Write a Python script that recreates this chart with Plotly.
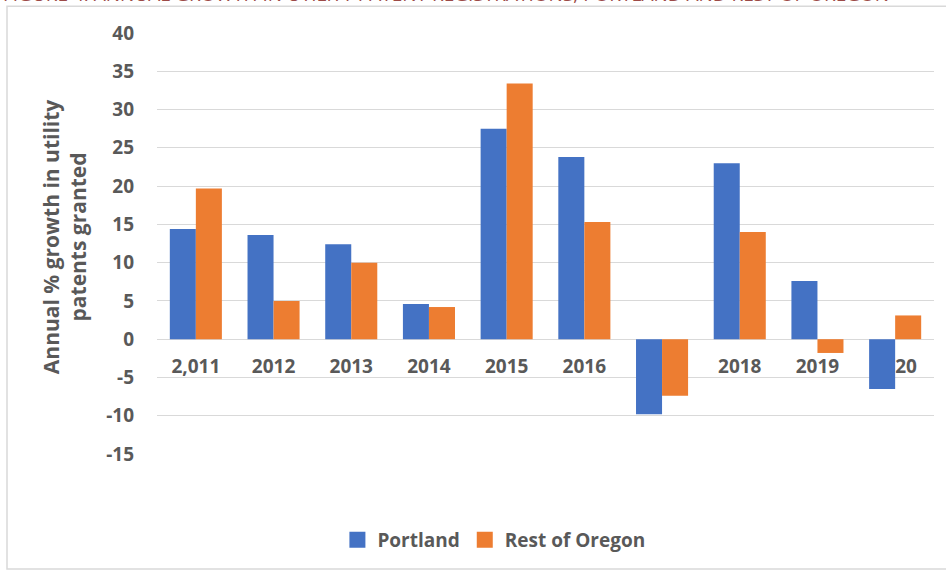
import plotly.graph_objects as go

categories = ["2,011", "2012", "2013", "2014", "2015", "2016", "2017", "2018", "2019", "2020"]
portland = [14.4, 13.6, 12.4, 4.6, 27.5, 23.8, -9.8, 23.0, 7.6, -6.5]
rest_of_oregon = [19.7, 5.0, 10.0, 4.2, 33.4, 15.3, -7.4, 14.0, -1.8, 3.1]
y_ticks = [-15, -10, -5, 0, 5, 10, 15, 20, 25, 30, 35, 40]
y_tick_labels = ["-15", "-10", "-5", "0", "5", "10", "15", "20", "25", "30", "35", "40"]

BLUE = "#4472C4"
ORANGE = "#ED7D31"
GRAY = "#595959"
GRID = "#d9d9d9"
FONT = "Open Sans"

fig = go.Figure()
fig.add_trace(go.Bar(x=categories, y=portland, name="Portland", marker_color=BLUE,
                     showlegend=False))
fig.add_trace(go.Bar(x=categories, y=rest_of_oregon, name="Rest of Oregon", marker_color=ORANGE,
                     showlegend=False))
# legend swatches
fig.add_trace(go.Scatter(x=[None], y=[None], mode="markers", name="Portland",
                         marker=dict(symbol="square", size=18, color=BLUE)))
fig.add_trace(go.Scatter(x=[None], y=[None], mode="markers", name="Rest of Oregon",
                         marker=dict(symbol="square", size=18, color=ORANGE)))

ymin, ymax = -15, 40
fig.update_layout(
    width=946, height=573,
    template="none",
    margin=dict(l=157, r=12, t=33, b=119),
    paper_bgcolor="white", plot_bgcolor="white",
    barmode="group", bargap=0.33, bargroupgap=0,
    font=dict(family=FONT, color=GRAY),
    xaxis=dict(type="category", categoryorder="array", categoryarray=categories,
               anchor="free", position=(0 - ymin) / (ymax - ymin),
               layer="below traces", showgrid=False, showline=False, zeroline=False,
               ticks="", ticklabelstandoff=14,
               tickfont=dict(family=FONT, size=19, color=GRAY, weight="bold")),
    yaxis=dict(range=[ymin, ymax], tickvals=y_ticks, ticktext=y_tick_labels,
               showgrid=True, gridcolor=GRID,
               gridwidth=1.3, zeroline=True, zerolinecolor=GRID, zerolinewidth=1.3,
               showline=False, ticks="", ticklabelstandoff=22,
               tickfont=dict(family=FONT, size=19, color=GRAY, weight="bold")),
    legend=dict(orientation="h", x=0.4336, xanchor="center", y=-0.204, yanchor="middle",
                font=dict(family=FONT, size=19, color=GRAY, weight="bold"),
                itemsizing="trace", bgcolor="rgba(0,0,0,0)"),
    showlegend=True,
)

fig.add_annotation(
    text="Annual % growth in utility<br>patents granted",
    xref="paper", yref="paper", x=(64 - 157) / 777, y=(454 - 237) / 421.3,
    xanchor="center", yanchor="middle", textangle=-90, showarrow=False,
    font=dict(family=FONT, size=21, color=GRAY, weight="bold"),
)
fig.add_annotation(
    text="FIGURE 4: ANNUAL GROWTH IN UTILITY PATENT REGISTRATIONS, PORTLAND AND REST OF OREGON",
    xref="paper", yref="paper", x=(1 - 157) / 777, y=(454 - 9) / 421.3,
    xanchor="left", yanchor="bottom", showarrow=False,
    font=dict(family=FONT, size=19, color="#9C4A47"),
)
fig.add_shape(type="rect", xref="paper", yref="paper",
              x0=(7 - 157) / 777, x1=(960 - 157) / 777,
              y0=(454 - 569) / 421.3, y1=(454 - 6) / 421.3,
              line=dict(color="#d9d9d9", width=1.5), fillcolor="rgba(0,0,0,0)", layer="below")

fig.write_html("out.html", config={"displayModeBar": False},
               post_script="document.body.style.margin='0px';")
